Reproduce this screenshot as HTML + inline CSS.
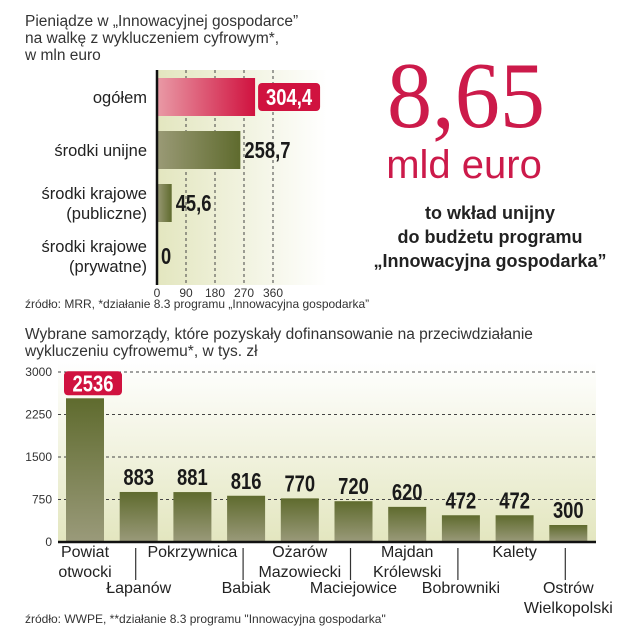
<!DOCTYPE html>
<html><head><meta charset="utf-8"><style>
html,body{margin:0;padding:0;background:#fff;width:630px;height:635px;overflow:hidden}
svg{display:block;font-family:"Liberation Sans",sans-serif}
.n{font-family:"Liberation Sans Narrow","Liberation Sans",sans-serif;font-weight:bold}
</style></head><body>
<svg id="c" width="630" height="635" viewBox="0 0 630 635">
<defs>
<linearGradient id="bgT" x1="0" x2="1" y1="0" y2="0"><stop offset="0" stop-color="#e3e6bf"/><stop offset="1" stop-color="#ffffff"/></linearGradient>
<linearGradient id="bgB" x1="0" x2="0" y1="0" y2="1"><stop offset="0" stop-color="#ffffff"/><stop offset="1" stop-color="#e3e6bf"/></linearGradient>
<linearGradient id="red" x1="0" x2="1"><stop offset="0" stop-color="#e99aa6"/><stop offset="1" stop-color="#d0123f"/></linearGradient>
<linearGradient id="grnH" x1="0" x2="1"><stop offset="0" stop-color="#9a9a76"/><stop offset="1" stop-color="#5f6b2e"/></linearGradient>
<linearGradient id="grnV" x1="0" x2="0" y1="0" y2="1"><stop offset="0" stop-color="#5f6b2e"/><stop offset="1" stop-color="#9a9a7a"/></linearGradient>
</defs>
<text x="25" y="26" font-size="15.5" fill="#333"><tspan x="25">Pieniądze w „Innowacyjnej gospodarce”</tspan><tspan x="25" dy="17">na walkę z wykluczeniem cyfrowym*,</tspan><tspan x="25" dy="17">w mln euro</tspan></text>
<g id="top"></g>
<text x="25" y="308" font-size="12" fill="#333">źródło: MRR, *działanie 8.3 programu „Innowacyjna gospodarka”</text>
<text x="466" y="127" font-size="94" fill="#cc1a4a" text-anchor="middle" font-family="'Liberation Serif',serif" textLength="158" lengthAdjust="spacingAndGlyphs">8,65</text>
<text x="464" y="178" font-size="40" fill="#cc1a4a" text-anchor="middle">mld euro</text>
<text x="490" y="219" font-size="18" font-weight="bold" fill="#222" text-anchor="middle"><tspan x="490">to wkład unijny</tspan><tspan x="490" dy="24">do budżetu programu</tspan><tspan x="490" dy="24">„Innowacyjna gospodarka”</tspan></text>
<text x="25" y="339" font-size="15.5" fill="#333"><tspan x="25">Wybrane samorządy, które pozyskały dofinansowanie na przeciwdziałanie</tspan><tspan x="25" dy="17">wykluczeniu cyfrowemu*, w tys. zł</tspan></text>
<g id="bot"></g>
<text x="25" y="623" font-size="12" fill="#333">źródło: WWPE, **działanie 8.3 programu "Innowacyjna gospodarka"</text>
</svg>
<script>
const topCats=[["ogółem"],["środki unijne"],["środki krajowe","(publiczne)"],["środki krajowe","(prywatne)"]];
const topVals=[304.4,258.7,45.6,0];
const topLabels=["304,4","258,7","45,6","0"];
const topTicks=[0,90,180,270,360];
const botCats=[["Powiat","otwocki"],["Łapanów"],["Pokrzywnica"],["Babiak"],["Ożarów","Mazowiecki"],["Maciejowice"],["Majdan","Królewski"],["Bobrowniki"],["Kalety"],["Ostrów","Wielkopolski"]];
const botVals=[2536,883,881,816,770,720,620,472,472,300];
const botTicks=[0,750,1500,2250,3000];
const NS="http://www.w3.org/2000/svg";
function mk(p,t,a,txt){const e=document.createElementNS(NS,t);for(const k in a)e.setAttribute(k,a[k]);if(txt!==undefined)e.textContent=txt;p.appendChild(e);return e;}
function condense(e){const w=e.getComputedTextLength();e.setAttribute('textLength',(w*0.8).toFixed(1));e.setAttribute('lengthAdjust','spacingAndGlyphs');}
// top chart
const T=document.getElementById('top');
const x0=157,pxU=(273-157)/360,xs=v=>x0+v*pxU;
let r=mk(T,'rect',{x:157,y:70,width:170,height:215,fill:'url(#bgT)'});

topTicks.forEach(t=>{
 if(t>0){let l=mk(T,'line',{x1:xs(t),x2:xs(t),y1:70,y2:285,stroke:'#444','stroke-dasharray':'3,3','stroke-width':1});
 }
 let tx=mk(T,'text',{x:xs(t),y:297,'font-size':12,fill:'#333','text-anchor':'middle'},String(t));
 
});
topVals.forEach((v,i)=>{
 const yc=97+i*53;
 let b=mk(T,'rect',{x:x0,y:yc-19,width:v*pxU,height:38,fill:i==0?'url(#red)':'url(#grnH)'});
 
 const lines=topCats[i];
 lines.forEach((s,j)=>{let t=mk(T,'text',{x:147,y:yc+6+(j-(lines.length-1)/2)*20,'font-size':16.5,fill:'#222','text-anchor':'end'},s);
 });
 const ex=xs(v);
 if(i==0){let p=mk(T,'rect',{x:ex+3,y:yc-14,width:62,height:28,rx:4,fill:'#d0123f'});
 }
 let vt=mk(T,'text',{x:ex+(i==0?34:4),y:yc+8,'font-size':23,class:'n',fill:i==0?'#fff':'#1a1a1a','text-anchor':i==0?'middle':'start'},topLabels[i]);
 
 condense(vt);
});
let ax=mk(T,'line',{x1:157,x2:157,y1:70,y2:285,stroke:'#111','stroke-width':2.5});

// bottom chart
const B=document.getElementById('bot');
const yb=542,pyU=(542-372)/3000,ys=v=>yb-v*pyU;
let bg=mk(B,'rect',{x:58,y:362,width:538,height:180,fill:'url(#bgB)'});

botTicks.forEach(t=>{
 if(t>0){let l=mk(B,'line',{x1:58,x2:596,y1:ys(t),y2:ys(t),stroke:'#444','stroke-dasharray':'3,3'});
 }
 let tx=mk(B,'text',{x:52,y:ys(t)+4,'font-size':12,fill:'#333','text-anchor':'end'},String(t));
 
});
botVals.forEach((v,i)=>{
 const cx=85+i*53.7;
 let b=mk(B,'rect',{x:cx-19,y:ys(v),width:38,height:v*pyU,fill:'url(#grnV)'});
 
 if(i==0){let p=mk(B,'rect',{x:cx-21,y:ys(v)-27,width:58,height:24,rx:4,fill:'#d0123f'});
 }
 let vt=mk(B,'text',{x:i==0?cx+8:cx,y:ys(v)-7,'font-size':23,class:'n',fill:i==0?'#fff':'#1a1a1a','text-anchor':'middle'},String(v));
 
 condense(vt);
 const low=i%2==1, y1=low?593:557;
 if(low){let tl=mk(B,'line',{x1:cx-3,x2:cx-3,y1:548,y2:580,stroke:'#333','stroke-width':1.2});
 }
 botCats[i].forEach((s,j)=>{let t=mk(B,'text',{x:cx,y:y1+j*20,'font-size':16,fill:'#222','text-anchor':'middle'},s);
 });
});
let ax2=mk(B,'line',{x1:58,x2:596,y1:yb,y2:yb,stroke:'#111','stroke-width':2.5});

</script>
</body></html>
